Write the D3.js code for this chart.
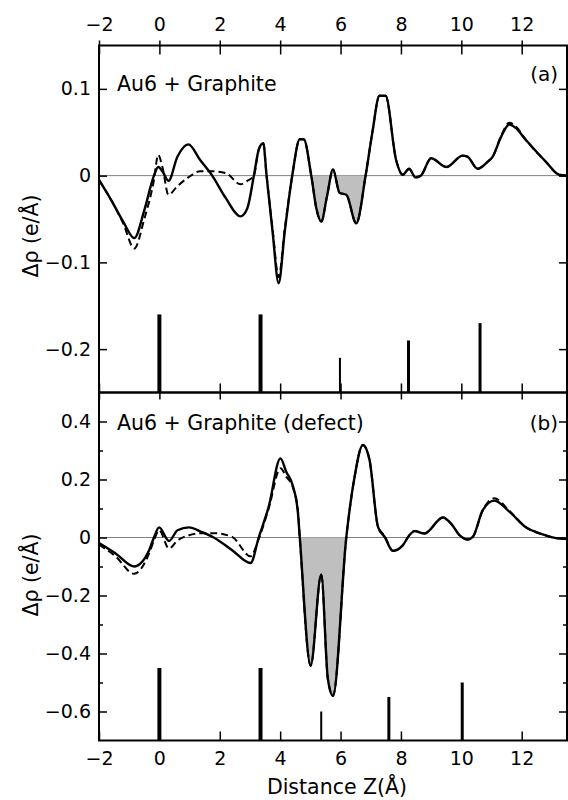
<!DOCTYPE html>
<html>
<head>
<meta charset="utf-8">
<script src="https://cdn.jsdelivr.net/npm/d3@7"></script>
<style>
  body { margin: 0; background: #fff; }
  svg text { font-family: "DejaVu Sans", sans-serif; fill: #000; }
</style>
</head>
<body>
<div id="chart"></div>
<script>
// ---- data ----
// panel (a): Au6 + Graphite
var zA = [-2, -1.6, -1.2, -0.83, -0.5, -0.18, -0.04, 0.1, 0.3, 0.6, 0.96, 1.35, 1.75, 2.2, 2.69, 2.91, 3.13, 3.29, 3.44, 3.55, 3.75, 3.95, 4.15, 4.4, 4.65, 4.78, 5.03, 5.2, 5.36, 5.55, 5.75, 5.97, 6.19, 6.52, 6.83, 7.05, 7.29, 7.49, 7.84, 8.06, 8.27, 8.48, 8.66, 9.0, 9.5, 10.05, 10.2, 10.54, 10.87, 11.04, 11.32, 11.59, 11.8, 12.14, 12.8, 13.24, 13.5];
var solidA = [-0.005, -0.028, -0.053, -0.072, -0.040, 0, 0.010, 0.005, -0.006, 0.022, 0.036, 0.018, 0, -0.026, -0.047, -0.038, 0, 0.030, 0.0375, 0, -0.065, -0.124, -0.065, 0, 0.042, 0.042, 0, -0.038, -0.053, -0.024, 0.007, -0.020, -0.022, -0.055, 0, 0.049, 0.092, 0.092, 0.018, 0.001, 0.008, -0.002, 0, 0.020, 0.010, 0.023, 0.022, 0.008, 0.016, 0.022, 0.045, 0.059, 0.055, 0.041, 0.016, 0.001, 0];
var dashA = [-0.005, -0.028, -0.055, -0.084, -0.050, -0.005, 0.024, 0.010, -0.022, -0.012, -0.002, 0.005, 0.005, 0.003, -0.010, -0.006, 0, 0.030, 0.0375, 0, -0.062, -0.117, -0.062, 0, 0.042, 0.042, 0, -0.038, -0.053, -0.024, 0.007, -0.020, -0.022, -0.055, 0, 0.049, 0.092, 0.092, 0.018, 0.001, 0.008, -0.002, 0, 0.020, 0.010, 0.023, 0.022, 0.008, 0.016, 0.022, 0.046, 0.061, 0.057, 0.041, 0.016, 0.001, 0];
var shadeA = [5.03, 6.83];
var atomZA = [0, 3.35, 5.98, 8.25, 10.62];
var atomTopA = [-0.16, -0.16, -0.21, -0.19, -0.17];
var atomKindA = ["C", "C", "Au1", "Au2", "Au2"];

// panel (b): Au6 + Graphite (defect)
var zB = [-2, -1.45, -0.84, -0.34, -0.18, -0.01, 0.32, 0.6, 0.98, 1.4, 1.8, 2.41, 3.02, 3.29, 3.62, 4.01, 4.2, 4.43, 4.59, 4.65, 5.01, 5.36, 5.58, 5.75, 6.19, 6.45, 6.74, 6.96, 7.24, 7.46, 7.73, 8.06, 8.28, 8.45, 8.78, 9.39, 9.66, 9.94, 10.21, 10.38, 10.71, 11.09, 11.59, 12.14, 12.69, 13.19, 13.5];
var solidB = [-0.019, -0.055, -0.100, -0.044, 0, 0.035, -0.012, 0.025, 0.035, 0.019, 0, -0.044, -0.088, 0, 0.106, 0.273, 0.227, 0.175, 0.083, 0, -0.442, -0.127, -0.488, -0.546, 0, 0.200, 0.319, 0.267, 0.037, 0.002, -0.046, -0.027, 0.008, 0.022, 0.014, 0.069, 0.048, 0.008, -0.007, 0.002, 0.094, 0.127, 0.089, 0.035, 0.011, -0.003, -0.005];
var dashB = [-0.025, -0.065, -0.125, -0.055, -0.010, 0.025, -0.038, -0.010, 0.008, 0.015, 0.015, 0.002, -0.065, -0.005, 0.100, 0.239, 0.210, 0.170, 0.090, 0, -0.442, -0.127, -0.488, -0.546, 0, 0.200, 0.319, 0.267, 0.037, 0.006, -0.046, -0.027, 0.008, 0.022, 0.014, 0.069, 0.048, 0.008, -0.007, 0.002, 0.094, 0.135, 0.092, 0.035, 0.011, -0.003, -0.005];
var shadeB = [4.65, 6.19];
var atomZB = [0, 3.35, 5.36, 7.6, 10.03];
var atomTopB = [-0.45, -0.45, -0.6, -0.55, -0.5];
var atomKindB = ["C", "C", "Au1", "Au2", "Au2"];

var xTicks = [-2, 0, 2, 4, 6, 8, 10, 12];
var yTicksA = [-0.2, -0.1, 0, 0.1];
var yTicksB = [-0.6, -0.4, -0.2, 0, 0.2, 0.4];
var yMinorB = [-0.5, -0.3, -0.1, 0.1, 0.3];

// ---- layout ----
var width = 568, height = 800;
var pLeft = 99, pRight = 567, pTop = 45.5, pMid = 392.5, pBottom = 740.5;

var svg = d3.select("#chart")
  .append("svg")
    .attr("width", width)
    .attr("height", height);

var x = d3.scaleLinear().domain([-2, 13.5]).range([pLeft, pRight]);
var yA = d3.scaleLinear().domain([-0.25, 0.15]).range([pMid, pTop]);
var yB = d3.scaleLinear().domain([-0.7, 0.5]).range([pBottom, pMid]);

var barWidth = {C: 4, Au1: 2, Au2: 3};
var fmtY = function(d) { return d === 0 ? "0" : d3.format(".1f")(d); };
var fmtX = d3.format("d");

function drawPanel(y, z, solid, dash, shade, atomZ, atomTop, atomKind, y0, y1) {
  var g = svg.append("g");

  // zero line
  g.append("line")
    .attr("x1", pLeft).attr("x2", pRight)
    .attr("y1", y(0)).attr("y2", y(0))
    .attr("stroke", "#808080")
    .attr("stroke-width", 1);

  // shaded negative region
  var pts = z.map(function(d, i) { return [d, solid[i]]; })
    .filter(function(d) { return d[0] >= shade[0] && d[0] <= shade[1]; });
  g.append("path")
    .datum(pts)
    .attr("fill", "#bfbfbf")
    .attr("d", d3.area()
      .x(function(d) { return x(d[0]); })
      .y0(y(0))
      .y1(function(d) { return y(Math.min(d[1], 0)); })
      .curve(d3.curveMonotoneX));

  // atom positions
  g.selectAll(".atom")
    .data(atomZ)
    .enter().append("line")
      .attr("x1", function(d) { return x(d); })
      .attr("x2", function(d) { return x(d); })
      .attr("y1", y(y0))
      .attr("y2", function(d, i) { return y(atomTop[i]); })
      .attr("stroke", "#000")
      .attr("stroke-width", function(d, i) { return barWidth[atomKind[i]]; });

  var line = d3.line()
    .x(function(d) { return x(d[0]); })
    .y(function(d) { return y(d[1]); })
    .curve(d3.curveMonotoneX);

  g.append("path")
    .datum(z.map(function(d, i) { return [d, dash[i]]; }))
    .attr("fill", "none")
    .attr("stroke", "#000")
    .attr("stroke-width", 2)
    .attr("stroke-dasharray", "7,4")
    .attr("d", line);

  g.append("path")
    .datum(z.map(function(d, i) { return [d, solid[i]]; }))
    .attr("fill", "none")
    .attr("stroke", "#000")
    .attr("stroke-width", 2.4)
    .attr("stroke-linejoin", "round")
    .attr("d", line);

  // frame
  g.append("rect")
    .attr("x", pLeft).attr("y", y(y1))
    .attr("width", pRight - pLeft).attr("height", y(y0) - y(y1))
    .attr("fill", "none")
    .attr("stroke", "#000")
    .attr("stroke-width", 2);
}

drawPanel(yA, zA, solidA, dashA, shadeA, atomZA, atomTopA, atomKindA, -0.25, 0.15);
drawPanel(yB, zB, solidB, dashB, shadeB, atomZB, atomTopB, atomKindB, -0.7, 0.5);

// ---- axes ----
function clean(sel) {
  sel.select(".domain").remove();
  sel.selectAll(".tick line").attr("stroke", "#000").attr("stroke-width", 1.5);
  sel.selectAll("text").attr("fill", "#000").style("font-family", "DejaVu Sans").style("font-size", "19px");
}

// top axis, ticks cross the frame
var topAxis = svg.append("g")
  .attr("transform", "translate(0," + pTop + ")")
  .call(d3.axisTop(x).tickValues(xTicks).tickSizeInner(5).tickSizeOuter(0).tickPadding(10).tickFormat(fmtX))
  .call(clean);
topAxis.selectAll(".tick line").attr("y1", 9);

svg.append("g")
  .attr("transform", "translate(0," + pMid + ")")
  .call(d3.axisBottom(x).tickValues(xTicks).tickSize(-9).tickFormat(""))
  .call(clean);

svg.append("g")
  .attr("transform", "translate(0," + pMid + ")")
  .call(d3.axisTop(x).tickValues(xTicks).tickSize(-7).tickFormat(""))
  .call(clean);

svg.append("g")
  .attr("transform", "translate(0," + pBottom + ")")
  .call(d3.axisBottom(x).tickValues(xTicks).tickSizeInner(-9).tickSizeOuter(0).tickPadding(11).tickFormat(fmtX))
  .call(clean);

// left / right, panel a
svg.append("g")
  .attr("transform", "translate(" + pLeft + ",0)")
  .call(d3.axisLeft(yA).tickValues(yTicksA).tickSizeInner(-8).tickSizeOuter(0).tickPadding(8).tickFormat(fmtY))
  .call(clean);
svg.append("g")
  .attr("transform", "translate(" + pRight + ",0)")
  .call(d3.axisRight(yA).tickValues(yTicksA).tickSize(-8).tickFormat(""))
  .call(clean);

// left / right, panel b
svg.append("g")
  .attr("transform", "translate(" + pLeft + ",0)")
  .call(d3.axisLeft(yB).tickValues(yTicksB).tickSizeInner(-8).tickSizeOuter(0).tickPadding(8).tickFormat(fmtY))
  .call(clean);
svg.append("g")
  .attr("transform", "translate(" + pLeft + ",0)")
  .call(d3.axisLeft(yB).tickValues(yMinorB).tickSize(-4).tickFormat(""))
  .call(clean);
svg.append("g")
  .attr("transform", "translate(" + pRight + ",0)")
  .call(d3.axisRight(yB).tickValues(yTicksB).tickSize(-8).tickFormat(""))
  .call(clean);
svg.append("g")
  .attr("transform", "translate(" + pRight + ",0)")
  .call(d3.axisRight(yB).tickValues(yMinorB).tickSize(-4).tickFormat(""))
  .call(clean);

// ---- labels ----
svg.append("text")
  .attr("x", 117).attr("y", 91)
  .style("font-size", "20.5px")
  .text("Au6 + Graphite");
svg.append("text")
  .attr("x", 117).attr("y", 430)
  .style("font-size", "20.5px")
  .text("Au6 + Graphite (defect)");

svg.append("text")
  .attr("x", 558).attr("y", 81)
  .attr("text-anchor", "end")
  .style("font-size", "20px")
  .text("(a)");
svg.append("text")
  .attr("x", 558).attr("y", 430)
  .attr("text-anchor", "end")
  .style("font-size", "20px")
  .text("(b)");

// y labels
[236, 575].forEach(function(cy) {
  svg.append("text")
    .attr("transform", "translate(31," + cy + ") rotate(-90)")
    .attr("text-anchor", "middle")
    .attr("dy", "0.35em")
    .style("font-size", "20.5px")
    .text("Δρ (e/Å)");
});

// x label
svg.append("text")
  .attr("x", 337).attr("y", 794)
  .attr("text-anchor", "middle")
  .style("font-size", "20.5px")
  .text("Distance Z(Å)");
</script>
</body>
</html>
